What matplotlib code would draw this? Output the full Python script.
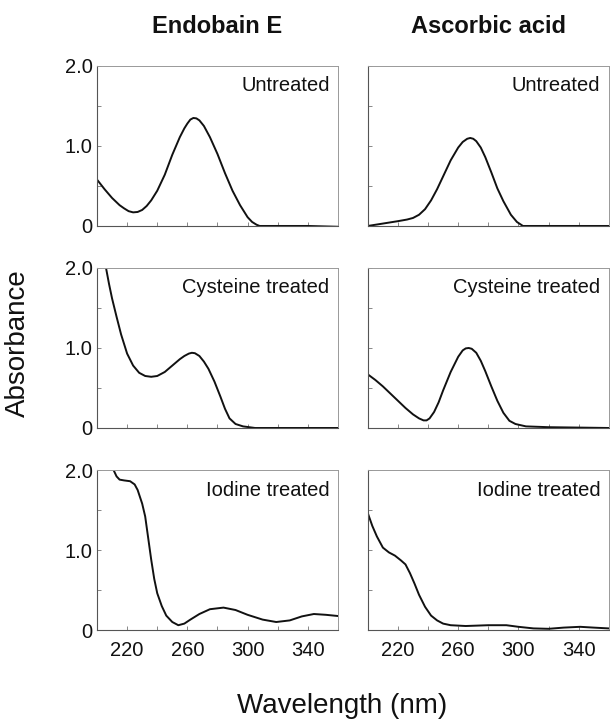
import numpy as np
import matplotlib.pyplot as plt

plt.rcParams['font.family'] = ['Liberation Sans', 'DejaVu Sans']

# column / row labels
columns = ["Endobain E", "Ascorbic acid"]
treatments = ["Untreated", "Cysteine treated", "Iodine treated"]
xtick_vals = [220, 260, 300, 340]
ytick_vals = [0, 1.0, 2.0]
ytick_labels = ["0", "1.0", "2.0"]

# Endobain E, untreated
endo_un_nm = [200, 205, 210, 215, 218, 221, 224, 227, 230, 233, 236, 240, 245, 250, 255, 258, 260, 262,
              264, 266, 268, 271, 275, 280, 285, 290, 295, 300, 303, 306, 308, 320, 340, 360]
endo_un_abs = [0.58, 0.46, 0.35, 0.26, 0.22, 0.185, 0.17, 0.175, 0.20, 0.25, 0.32, 0.44, 0.64, 0.89, 1.11, 1.22,
               1.28, 1.33, 1.35, 1.345, 1.32, 1.25, 1.11, 0.90, 0.66, 0.44, 0.26, 0.11, 0.05, 0.015, 0.0, 0.0, 0.0, -0.01]

# Ascorbic acid, untreated
asc_un_nm = [200, 210, 220, 226, 230, 234, 238, 242, 246, 250, 255, 260, 263, 266, 268, 270, 272, 275,
             278, 282, 286, 290, 295, 299, 303, 360]
asc_un_abs = [0.0, 0.03, 0.06, 0.08, 0.10, 0.14, 0.21, 0.32, 0.46, 0.62, 0.82, 0.98, 1.05, 1.09, 1.10, 1.09,
              1.06, 0.98, 0.86, 0.67, 0.47, 0.31, 0.14, 0.05, 0.0, 0.0]

# Endobain E, cysteine treated
endo_cys_nm = [206, 208, 210, 213, 216, 220, 224, 228, 232, 236, 240, 245, 250, 255, 258, 261, 263,
               265, 268, 271, 274, 278, 282, 285, 288, 292, 297, 305, 360]
endo_cys_abs = [2.0, 1.80, 1.62, 1.39, 1.17, 0.93, 0.78, 0.69, 0.65, 0.64, 0.65, 0.70, 0.78, 0.86, 0.90, 0.93, 0.94,
                0.935, 0.90, 0.83, 0.74, 0.58, 0.39, 0.24, 0.12, 0.05, 0.02, 0.0, 0.0]

# Ascorbic acid, cysteine treated
asc_cys_nm = [200, 205, 210, 215, 220, 225, 230, 234, 237, 239, 241, 244, 247, 250, 255, 260, 263, 265,
              267, 269, 272, 275, 278, 282, 286, 290, 294, 298, 305, 320, 360]
asc_cys_abs = [0.67, 0.60, 0.52, 0.43, 0.34, 0.25, 0.17, 0.12, 0.095, 0.095, 0.12, 0.20, 0.32, 0.47, 0.70, 0.89, 0.97, 0.995,
               1.00, 0.99, 0.94, 0.84, 0.71, 0.52, 0.34, 0.19, 0.09, 0.05, 0.02, 0.01, 0.0]

# Endobain E, iodine treated
endo_iod_nm = [211, 213, 215, 218, 222, 225, 227, 230, 232, 234, 236, 238, 240, 243, 246, 250,
               254, 258, 262, 268, 275, 284, 292, 300, 310, 319, 328, 336, 344, 352, 360]
endo_iod_abs = [2.0, 1.92, 1.88, 1.87, 1.86, 1.82, 1.75, 1.58, 1.42, 1.15, 0.88, 0.64, 0.46, 0.30, 0.18, 0.10,
                0.06, 0.08, 0.13, 0.20, 0.26, 0.28, 0.25, 0.19, 0.13, 0.10, 0.12, 0.17, 0.20, 0.19, 0.175]

# Ascorbic acid, iodine treated
asc_iod_nm = [200, 203, 206, 210, 214, 218, 222, 225, 228, 231, 234, 238, 242, 246, 250, 255,
              265, 280, 292, 300, 310, 320, 330, 341, 350, 360]
asc_iod_abs = [1.46, 1.30, 1.17, 1.03, 0.97, 0.93, 0.87, 0.82, 0.71, 0.58, 0.44, 0.29, 0.18, 0.12, 0.08, 0.06,
               0.05, 0.06, 0.06, 0.04, 0.02, 0.015, 0.03, 0.04, 0.03, 0.02]

spectra = [
    [(endo_un_nm, endo_un_abs), (asc_un_nm, asc_un_abs)],
    [(endo_cys_nm, endo_cys_abs), (asc_cys_nm, asc_cys_abs)],
    [(endo_iod_nm, endo_iod_abs), (asc_iod_nm, asc_iod_abs)],
]

fig = plt.figure(figsize=(6.1, 7.21), dpi=100)

lefts = [0.159, 0.603]
bottoms = [0.6866, 0.4064, 0.1262]
w, h = 0.395, 0.2219

for r in range(3):
    for c in range(2):
        ax = fig.add_axes([lefts[c], bottoms[r], w, h])
        nm, ab = spectra[r][c]
        ax.plot(nm, ab, color='#111111', lw=1.4, solid_joinstyle='round')
        ax.set_xlim(200, 360)
        ax.set_ylim(0, 2.0)

        for side in ['left', 'bottom']:
            ax.spines[side].set_color('#555555')
            ax.spines[side].set_linewidth(0.8)
        for side in ['top', 'right']:
            ax.spines[side].set_color('#999999')
            ax.spines[side].set_linewidth(0.7)

        ax.set_xticks(xtick_vals)
        ax.set_xticks(np.arange(200, 361, 20), minor=True)
        ax.set_yticks(ytick_vals)
        ax.set_yticks([0.5, 1.5], minor=True)
        ax.tick_params(which='both', direction='in', length=3, width=0.7,
                       labelsize=14.5, colors='#111111')
        ax.tick_params(axis='x', pad=8)
        ax.tick_params(axis='y', pad=3)
        ax.tick_params(which='both', color='#888888')

        if c == 0:
            ax.set_yticklabels(ytick_labels)
        else:
            ax.set_yticklabels([])
        if r < 2:
            ax.set_xticklabels([])

        ax.text(0.965, 0.875, treatments[r], transform=ax.transAxes,
                ha='right', va='center', fontsize=14.5, color='#111111')

        if r == 0:
            ax.set_title(columns[c], fontsize=17, fontweight='bold', pad=24, color='#111111')

fig.text(0.03, 0.524, "Absorbance", rotation=90, ha='center', va='center',
         fontsize=20, color='#111111')
fig.text(0.561, 0.021, "Wavelength (nm)", ha='center', va='center',
         fontsize=20, color='#111111')

fig.savefig("out.png", dpi=100)
